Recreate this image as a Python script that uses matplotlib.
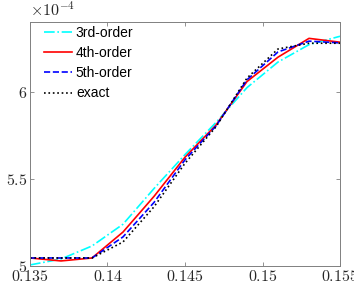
import numpy as np
import matplotlib.pyplot as plt

# grid points and solutions (y values in units of 1e-4)
x = [0.135, 0.137, 0.139, 0.141, 0.143, 0.145, 0.147, 0.149, 0.151, 0.153, 0.155]
y3 = [5.006, 5.040, 5.115, 5.240, 5.445, 5.640, 5.825, 6.025, 6.172, 6.272, 6.320]
y4 = [5.046, 5.029, 5.046, 5.195, 5.400, 5.625, 5.810, 6.060, 6.200, 6.308, 6.286]
y5 = [5.046, 5.046, 5.046, 5.167, 5.365, 5.610, 5.805, 6.070, 6.230, 6.292, 6.282]
yex = [5.046, 5.046, 5.046, 5.138, 5.340, 5.590, 5.800, 6.080, 6.247, 6.280, 6.280]
labels = ['3rd-order', '4th-order', '5th-order', 'exact']

plt.rcParams['mathtext.fontset'] = 'cm'
plt.rcParams['font.family'] = ['Liberation Sans', 'DejaVu Sans']

fig = plt.figure(figsize=(3.54, 2.93), dpi=100)
ax = fig.add_axes([0.0847, 0.0922, 0.8758, 0.8327])

ax.plot(x, y3, '-.', color='#00ffff', lw=1.2, label=labels[0])
ax.plot(x, y4, '-', color='red', lw=1.2, label=labels[1])
ax.plot(x, y5, '--', color='blue', lw=1.2, label=labels[2])
ax.plot(x, yex, ':', color='black', lw=1.2, label=labels[3])

ax.set_xlim(0.135, 0.155)
ax.set_ylim(5.0, 6.402)
xt = [0.135, 0.14, 0.145, 0.15, 0.155]
ax.set_xticks(xt)
ax.set_xticklabels(['$%s$' % s for s in ['0.135', '0.14', '0.145', '0.15', '0.155']], fontsize=11.5)
ax.set_yticks([5, 5.5, 6])
ax.set_yticklabels(['$5$', '$5.5$', '$6$'], fontsize=11.5)
ax.tick_params(direction='in', top=True, right=True, length=3, width=0.6,
               color='#808080', labelcolor='#262626', pad=2)
for s in ax.spines.values():
    s.set_color('#808080')
    s.set_linewidth(0.7)

fig.text(0.086, 0.945, r'$\times10^{-4}$', fontsize=11.5, color='#262626',
         va='baseline', ha='left')

ax.legend(loc='upper left', bbox_to_anchor=(0.045, 0.985), frameon=False, fontsize=10,
          handlelength=2.0, handletextpad=0.3, labelspacing=0.45,
          borderaxespad=0, borderpad=0)

fig.savefig('out.png', dpi=100)
